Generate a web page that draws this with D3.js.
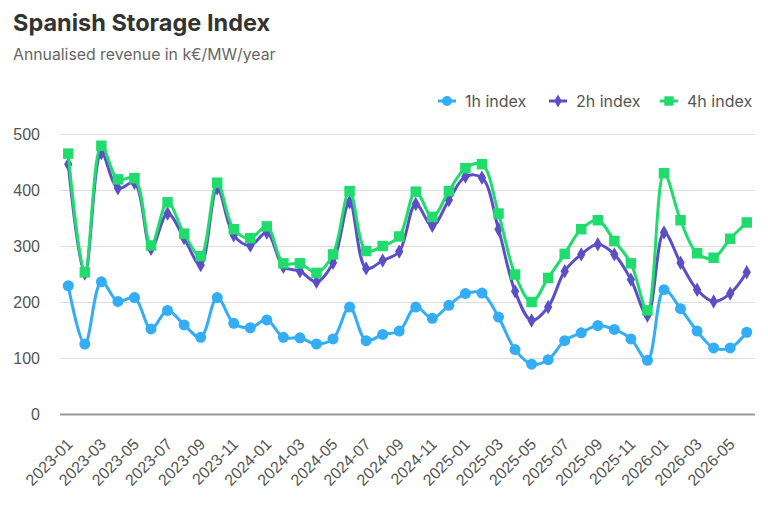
<!DOCTYPE html>
<html>
<head>
<meta charset="utf-8">
<title>Spanish Storage Index</title>
<script src="https://cdn.jsdelivr.net/npm/d3@7"></script>
<style>
  body { margin: 0; background: #fff; font-family: "Inter", "Noto Sans", sans-serif; }
  .title { font-size: 23.5px; font-weight: 700; fill: #333; }
  .subtitle { font-size: 15.8px; fill: #666; }
  .tick text { font-size: 16px; fill: #555; }
  .legend text { font-size: 16px; fill: #555; }
</style>
</head>
<body>
<svg id="chart" width="768" height="512"></svg>
<script>
// months 2023-01 .. 2026-06
var months = [];
for (var yr = 2023; yr <= 2026; yr++) {
  for (var m = 1; m <= 12; m++) {
    if (yr === 2026 && m > 6) break;
    months.push(yr + '-' + (m < 10 ? '0' + m : m));
  }
}
var index1h = [229, 125, 236, 201, 208, 152, 185, 159, 137, 208, 162, 154,
               168, 137, 136, 125, 134, 191, 131, 142, 148, 191, 171, 194,
               215, 216, 173, 115, 89, 97, 131, 145, 158, 151, 134, 96,
               222, 188, 148, 118, 118, 146];
var index2h = [446, 251, 466, 403, 413, 295, 358, 314, 266, 403, 319, 301,
               324, 263, 255, 236, 270, 378, 260, 274, 290, 375, 336, 382,
               424, 422, 330, 219, 167, 191, 255, 285, 303, 285, 240, 176,
               324, 270, 222, 201, 215, 253];
var index4h = [465, 253, 479, 419, 421, 301, 378, 322, 282, 413, 330, 314,
               335, 269, 269, 252, 285, 398, 291, 300, 317, 397, 352, 398,
               439, 446, 358, 249, 200, 243, 286, 330, 346, 309, 269, 185,
               430, 346, 287, 279, 313, 342];
var yTicks = [0, 100, 200, 300, 400, 500];

var series = [
  { name: '1h index', values: index1h, color: '#33adf5', shape: d3.symbolCircle, size: 95 },
  { name: '2h index', values: index2h, color: '#5b4fc7', shape: d3.symbolDiamond, size: 60 },
  { name: '4h index', values: index4h, color: '#1fdc6c', shape: d3.symbolSquare, size: 110 }
];

var svg = d3.select('#chart');
var plotL = 60, plotR = 755, plotT = 134, plotB = 414;

svg.append('text').attr('class', 'title').attr('x', 13).attr('y', 31).text('Spanish Storage Index');
svg.append('text').attr('class', 'subtitle').attr('x', 13).attr('y', 60).text('Annualised revenue in k€/MW/year');

var x = d3.scalePoint().domain(months).range([plotL, plotR]).padding(0.5);
var y = d3.scaleLinear().domain([0, 500]).range([plotB, plotT]);

// grid + y labels
var yAxis = svg.append('g').attr('transform', 'translate(' + plotL + ',0)')
  .call(d3.axisLeft(y).tickValues(yTicks).tickSize(-(plotR - plotL)).tickPadding(20));
yAxis.select('.domain').remove();
yAxis.selectAll('.tick line').attr('stroke', function(d){ return d === 0 ? '#999' : '#ddd'; })
  .attr('stroke-width', function(d){ return d === 0 ? 2 : 1; });

// x labels every other month
var xAxis = svg.append('g').attr('transform', 'translate(0,' + plotB + ')')
  .call(d3.axisBottom(x).tickValues(months.filter(function(d, i){ return i % 2 === 0; })).tickSize(0));
xAxis.select('.domain').remove();
xAxis.selectAll('.tick text')
  .attr('text-anchor', 'end')
  .attr('dx', 0).attr('dy', 0)
  .attr('transform', 'translate(3,29) rotate(-45)');

var line = d3.line()
  .x(function(d, i){ return x(months[i]); })
  .y(function(d){ return y(d); })
  .curve(d3.curveCatmullRom.alpha(0.5));

series.forEach(function(s){
  var g = svg.append('g');
  g.append('path').attr('d', line(s.values))
    .attr('fill', 'none').attr('stroke', s.color).attr('stroke-width', 3);
  g.selectAll('path.pt').data(s.values).enter().append('path')
    .attr('class', 'pt')
    .attr('d', d3.symbol().type(s.shape).size(s.size))
    .attr('transform', function(d, i){ return 'translate(' + x(months[i]) + ',' + y(d) + ')'; })
    .attr('fill', s.color);
});

// legend
var legendX = [438, 549, 660];
var legend = svg.append('g').attr('class', 'legend');
series.forEach(function(s, i){
  var lg = legend.append('g').attr('transform', 'translate(' + legendX[i] + ',101)');
  lg.append('line').attr('x1', 0).attr('x2', 18).attr('stroke', s.color).attr('stroke-width', 3);
  lg.append('path').attr('d', d3.symbol().type(s.shape).size(s.size * 0.8))
    .attr('transform', 'translate(9,0)').attr('fill', s.color);
  lg.append('text').attr('x', 27).attr('y', 6).text(s.name);
});
</script>
</body>
</html>
